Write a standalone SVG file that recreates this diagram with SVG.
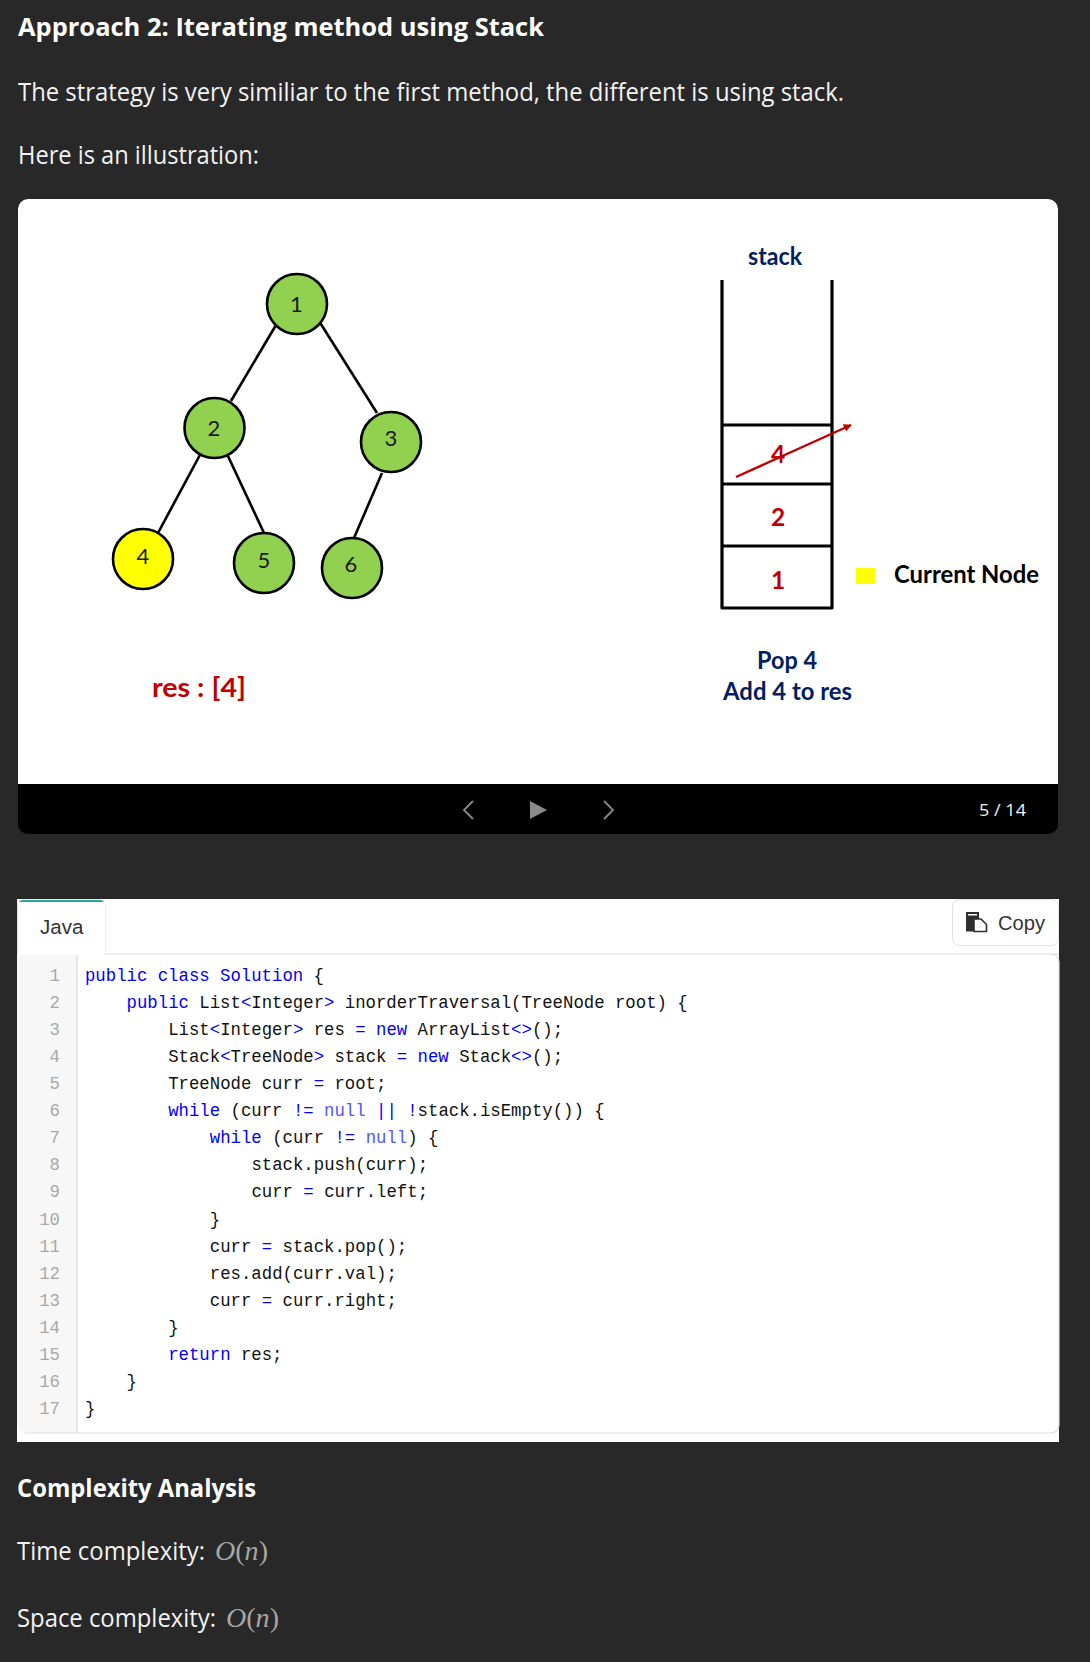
<svg xmlns="http://www.w3.org/2000/svg" width="1090" height="1662" viewBox="0 0 1090 1662">
<style>
.h{font-family:"Open Sans","Noto Sans",sans-serif;font-weight:700;font-size:25.5px;fill:#fff}
.p{font-family:"Open Sans","Noto Sans",sans-serif;font-size:25px;fill:#f2f2f2}
.m{font-family:"Liberation Serif",serif;font-size:27px;fill:#a6a6a6}
.n{font-family:"Lato","Open Sans",sans-serif;font-size:22px;fill:#1a1a1a;text-anchor:middle}
.s{font-family:"Lato","Open Sans",sans-serif;font-weight:700;font-size:24.5px}
.navy{fill:#002060}.red{fill:#c00000}
.c{font-family:"Liberation Mono",monospace;font-size:18.5px;fill:#111;white-space:pre}
.k{fill:#0000ff}.l{fill:#5555ff}
.ln{font-family:"Liberation Mono",monospace;font-size:18.5px;fill:#a8a8a8;text-anchor:end}
.u{font-family:"Liberation Sans",Arial,sans-serif;font-size:20.5px;fill:#333}
.node{fill:#92d050;stroke:#000;stroke-width:2.6}
.edge{stroke:#000;stroke-width:2.6;fill:none}
.st{stroke:#000;fill:none;stroke-width:3.2;stroke-linejoin:round}
.ctl{fill:none;stroke:#8a8a8a;stroke-width:1.8}
</style>
<defs>
<marker id="ah" viewBox="0 0 10 10" refX="9" refY="5" markerWidth="8" markerHeight="8" markerUnits="userSpaceOnUse" orient="auto"><path d="M0 0L10 5L0 10z" fill="#c00000"/></marker>
</defs>
<rect width="1090" height="1662" fill="#282828"/>
<text class="h" x="18" y="36" textLength="526" lengthAdjust="spacingAndGlyphs">Approach 2: Iterating method using Stack</text>
<text class="p" x="18" y="101" textLength="826" lengthAdjust="spacingAndGlyphs">The strategy is very similiar to the first method, the different is using stack.</text>
<text class="p" x="18" y="164" textLength="241" lengthAdjust="spacingAndGlyphs">Here is an illustration:</text>

<g id="slide">
<rect x="18" y="199" width="1040" height="635" rx="10" fill="#000"/>
<path d="M18 784V209a10 10 0 0 1 10-10H1048a10 10 0 0 1 10 10V784z" fill="#fff"/>
</g>
<g id="connectors">
<line class="edge" x1="276" y1="325" x2="231" y2="401"/>
<line class="edge" x1="319" y1="321" x2="377" y2="413"/>
<line class="edge" x1="201" y1="453" x2="158" y2="533"/>
<line class="edge" x1="227" y1="454" x2="264" y2="533"/>
<line class="edge" x1="382" y1="473" x2="354" y2="538"/>
</g>
<g id="node1"><circle class="node" cx="297" cy="304" r="30"/><text class="n" x="296.500" y="312">1</text></g>
<g id="node2"><circle class="node" cx="214.500" cy="428" r="30"/><text class="n" x="214" y="436">2</text></g>
<g id="node3"><circle class="node" cx="391" cy="442" r="30"/><text class="n" x="391" y="446">3</text></g>
<g id="node4"><circle class="node" style="fill:#ff0" cx="143" cy="559" r="30"/><text class="n" x="143" y="564">4</text></g>
<g id="node5"><circle class="node" cx="264" cy="563" r="30"/><text class="n" x="264" y="568">5</text></g>
<g id="node6"><circle class="node" cx="352" cy="568" r="30"/><text class="n" x="351" y="572">6</text></g>
<text class="s red" x="152" y="697" textLength="94" lengthAdjust="spacingAndGlyphs" style="font-size:27px">res : [4]</text>

<g id="stack">
<path class="st" d="M722 280V608H832V280"/>
<path class="st" style="stroke-width:2.800" d="M722 425H832M722 484H832M722 546H832"/>
<text class="s navy" x="748" y="265" textLength="54" lengthAdjust="spacingAndGlyphs">stack</text>
<text class="s red" x="778" y="463" text-anchor="middle">4</text>
<text class="s red" x="778" y="526" text-anchor="middle">2</text>
<text class="s red" x="778" y="589" text-anchor="middle">1</text>
<line x1="736" y1="477" x2="851" y2="425" stroke="#c00000" stroke-width="2.4" marker-end="url(#ah)"/>
<rect x="856" y="568" width="19" height="16" fill="#ff0"/>
<text class="s" x="894" y="583" fill="#000" textLength="145" lengthAdjust="spacingAndGlyphs">Current Node</text>
<text class="s navy" x="757" y="669" textLength="60" lengthAdjust="spacingAndGlyphs">Pop 4</text>
<text class="s navy" x="723" y="700" textLength="129" lengthAdjust="spacingAndGlyphs">Add 4 to res</text>
</g>

<g id="controls">
<path class="ctl" d="M473 801L464 810L473 819"/>
<path d="M530 801L547 810L530 819z" fill="#8a8a8a"/>
<path class="ctl" d="M604 801L613 810L604 819"/>
<text x="979" y="816" fill="#f2f2f2" font-family="Open Sans,sans-serif" font-size="17" textLength="47" lengthAdjust="spacingAndGlyphs">5 / 14</text>
</g>

<g id="code">
<rect x="17" y="899" width="1042" height="543" fill="#fff"/>
<path d="M17 954H1059" stroke="#ddd" stroke-width="1.2" fill="none"/>
<path d="M17 954V1425a8 8 0 0 0 8 8H77V954z" fill="#f7f7f7"/>
<path d="M77 954V1433M25 1433H1051a8 8 0 0 0 8-8V962a8 8 0 0 0-8-8" stroke="#ddd" stroke-width="1.2" fill="none"/>
<path d="M17.500 954V905a5 5 0 0 1 5-5H100a5 5 0 0 1 5 5V954" fill="#fff" stroke="#ddd" stroke-width="1"/>
<path d="M18 905a5 5 0 0 1 5-5H100a5 5 0 0 1 5 5V902H18z" fill="#26a69a"/>
<rect x="18" y="902" width="87" height="53" fill="#fff"/>
<text class="u" x="40" y="934">Java</text>
<rect x="952.500" y="899.500" width="106" height="46" rx="7" fill="#fff" stroke="#e2e2e2"/>
<path d="M966 912h13v19.500h-13z" fill="#2f2f2f"/><path d="M968 914h9v1.500h-9z" fill="#fff"/><path d="M974 919h7l5.500 5.500v7h-12.500z" fill="#fff" stroke="#2f2f2f" stroke-width="1.600"/>
<text class="u" x="998" y="930" textLength="47" lengthAdjust="spacingAndGlyphs">Copy</text>
<g id="codetext" transform="scale(.937 1)">
<text class="ln" x="64" y="981">1</text><text class="ln" x="64" y="1008">2</text><text class="ln" x="64" y="1035">3</text><text class="ln" x="64" y="1062">4</text><text class="ln" x="64" y="1089">5</text><text class="ln" x="64" y="1116">6</text><text class="ln" x="64" y="1143">7</text><text class="ln" x="64" y="1170">8</text><text class="ln" x="64" y="1197">9</text><text class="ln" x="64" y="1225">10</text><text class="ln" x="64" y="1252">11</text><text class="ln" x="64" y="1279">12</text><text class="ln" x="64" y="1306">13</text><text class="ln" x="64" y="1333">14</text><text class="ln" x="64" y="1360">15</text><text class="ln" x="64" y="1387">16</text><text class="ln" x="64" y="1414">17</text>
<text class="c" x="90.700" y="981"><tspan class="k">public class Solution</tspan> {</text>
<text class="c" x="135.100" y="1008"><tspan class="k">public</tspan> List<tspan class="k">&lt;</tspan>Integer<tspan class="k">&gt;</tspan> inorderTraversal(TreeNode root) {</text>
<text class="c" x="179.500" y="1035">List<tspan class="k">&lt;</tspan>Integer<tspan class="k">&gt;</tspan> res <tspan class="k">= new</tspan> ArrayList<tspan class="k">&lt;&gt;</tspan>();</text>
<text class="c" x="179.500" y="1062">Stack<tspan class="k">&lt;</tspan>TreeNode<tspan class="k">&gt;</tspan> stack <tspan class="k">= new</tspan> Stack<tspan class="k">&lt;&gt;</tspan>();</text>
<text class="c" x="179.500" y="1089">TreeNode curr <tspan class="k">=</tspan> root;</text>
<text class="c" x="179.500" y="1116"><tspan class="k">while</tspan> (curr <tspan class="k">!=</tspan> <tspan class="l">null</tspan> <tspan class="k">||</tspan> <tspan class="k">!</tspan>stack.isEmpty()) {</text>
<text class="c" x="223.900" y="1143"><tspan class="k">while</tspan> (curr <tspan class="k">!=</tspan> <tspan class="l">null</tspan>) {</text>
<text class="c" x="268.300" y="1170">stack.push(curr);</text>
<text class="c" x="268.300" y="1197">curr <tspan class="k">=</tspan> curr.left;</text>
<text class="c" x="223.900" y="1225">}</text>
<text class="c" x="223.900" y="1252">curr <tspan class="k">=</tspan> stack.pop();</text>
<text class="c" x="223.900" y="1279">res.add(curr.val);</text>
<text class="c" x="223.900" y="1306">curr <tspan class="k">=</tspan> curr.right;</text>
<text class="c" x="179.500" y="1333">}</text>
<text class="c" x="179.500" y="1360"><tspan class="k">return</tspan> res;</text>
<text class="c" x="135.100" y="1387">}</text>
<text class="c" x="90.700" y="1414">}</text>
</g>
</g>

<text class="h" x="17" y="1497" textLength="239" lengthAdjust="spacingAndGlyphs">Complexity Analysis</text>
<text class="p" x="17" y="1560" textLength="188" lengthAdjust="spacingAndGlyphs">Time complexity:</text>
<text class="m" x="215" y="1560" textLength="53" lengthAdjust="spacingAndGlyphs"><tspan font-style="italic">O</tspan>(<tspan font-style="italic">n</tspan>)</text>
<text class="p" x="17" y="1627" textLength="199" lengthAdjust="spacingAndGlyphs">Space complexity:</text>
<text class="m" x="226" y="1627" textLength="53" lengthAdjust="spacingAndGlyphs"><tspan font-style="italic">O</tspan>(<tspan font-style="italic">n</tspan>)</text>
</svg>
